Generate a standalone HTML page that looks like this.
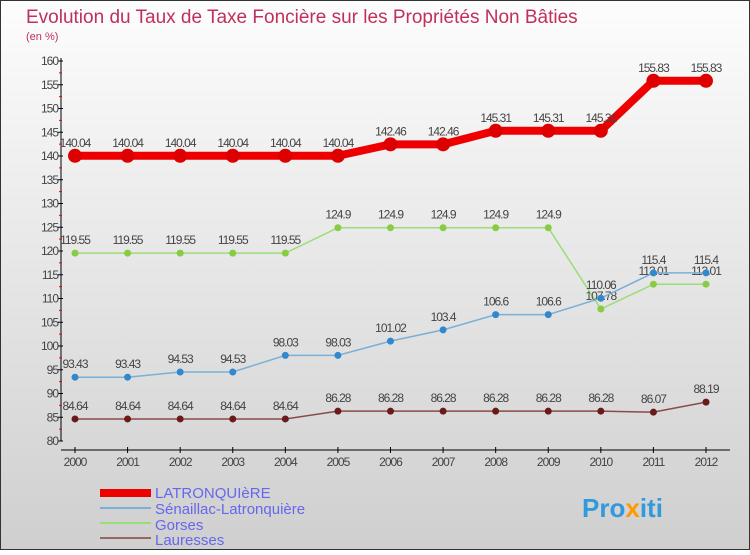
<!DOCTYPE html>
<html><head><meta charset="utf-8"><style>
body{margin:0}
svg text{font-family:"Liberation Sans",sans-serif}
</style></head><body>
<svg width="750" height="550" xmlns="http://www.w3.org/2000/svg">
<defs><linearGradient id="bg" x1="0" y1="0" x2="0" y2="1"><stop offset="0" stop-color="#fdfdfd"/><stop offset="1" stop-color="#cfcfcf"/></linearGradient></defs>
<rect x="0.5" y="0.5" width="749" height="549" fill="url(#bg)" stroke="#333"/>
<text x="26" y="23" font-size="19" fill="#c0305a">Evolution du Taux de Taxe Foncière sur les Propriétés Non Bâties</text>
<text x="26" y="40" font-size="11" fill="#c0305a">(en %)</text>
<g id="axes"></g><g id="series"></g>
<g>
<rect x="100" y="489" width="51" height="8" fill="#e00"/>
<text x="155" y="498" font-size="15" fill="#6666ee">LATRONQUIèRE</text>
<rect x="100" y="507" width="51" height="2" fill="#7ab0d8"/>
<text x="155" y="514" font-size="15" fill="#6666ee">Sénaillac-Latronquière</text>
<rect x="100" y="522" width="51" height="2" fill="#99dd77"/>
<text x="155" y="530" font-size="15" fill="#6666ee">Gorses</text>
<rect x="100" y="537" width="51" height="2" fill="#996666"/>
<text x="155" y="545" font-size="15" fill="#6666ee">Lauresses</text>
</g>
<text x="582" y="517" font-size="26" font-weight="bold" fill="#3399dd">Pro<tspan fill="#ff9900">x</tspan>iti</text>
</svg>
<script>
const years=[2000,2001,2002,2003,2004,2005,2006,2007,2008,2009,2010,2011,2012];
const yTicks=[80,85,90,95,100,105,110,115,120,125,130,135,140,145,150,155,160];
const latronquiere=[140.04,140.04,140.04,140.04,140.04,140.04,142.46,142.46,145.31,145.31,145.31,155.83,155.83];
const senaillac=[93.43,93.43,94.53,94.53,98.03,98.03,101.02,103.4,106.6,106.6,110.06,115.4,115.4];
const gorses=[119.55,119.55,119.55,119.55,119.55,124.9,124.9,124.9,124.9,124.9,107.78,113.01,113.01];
const lauresses=[84.64,84.64,84.64,84.64,84.64,86.28,86.28,86.28,86.28,86.28,86.28,86.07,88.19];
const NS="http://www.w3.org/2000/svg";
const X=i=>75+i*(706-75)/12, Y=v=>441-(v-80)*(380/80);
function mk(t,a,p){const e=document.createElementNS(NS,t);for(const k in a)e.setAttribute(k,a[k]);p.appendChild(e);return e;}
const ax=document.getElementById('axes'), sg=document.getElementById('series');
let l=mk('line',{x1:61,y1:58,x2:61,y2:441,stroke:'#000'},ax);


l=mk('line',{x1:61,y1:450,x2:730,y2:450,stroke:'#000'},ax);


yTicks.forEach(v=>{mk('line',{x1:58,y1:Y(v),x2:63,y2:Y(v),stroke:'#000'},ax);
 if(v<160)mk('line',{x1:59,y1:Y(v+2.5),x2:62,y2:Y(v+2.5),stroke:'#e00'},ax);
 const t=mk('text',{x:58,y:Y(v)+4,'font-size':12,'text-anchor':'end',fill:'#444','letter-spacing':'-1'},ax);t.textContent=v;
 
 });
years.forEach((y,i)=>{mk('line',{x1:X(i),y1:447,x2:X(i),y2:453,stroke:'#000'},ax);
 const t=mk('text',{x:X(i),y:466,'font-size':12,'text-anchor':'middle',fill:'#444','letter-spacing':'-1'},ax);t.textContent=y;
 
 });
function draw(d,name,col,dot,w,r){const g=mk('g',{},sg);
 
 
 mk('polyline',{points:d.map((v,i)=>X(i)+','+Y(v)).join(' '),fill:'none',stroke:col,'stroke-width':w},g);
 d.forEach((v,i)=>{const c=mk('circle',{cx:X(i),cy:Y(v),r:r,fill:dot},g);
  
  
  const t=mk('text',{x:X(i),y:Y(v)-9,'font-size':12,'text-anchor':'middle',fill:'#444','letter-spacing':'-1'},g);t.textContent=String(v);
  
  });}
draw(lauresses,'lauresses','#8b4a4a','#6b1a1a',1.5,3.5);
draw(gorses,'gorses','#99dd77','#88cc44',1.5,3.5);
draw(senaillac,'senaillac','#7ab0d8','#3388cc',1.5,3.5);
draw(latronquiere,'latronquiere','#ee0000','#dd0000',8,7);
</script>
</body></html>
